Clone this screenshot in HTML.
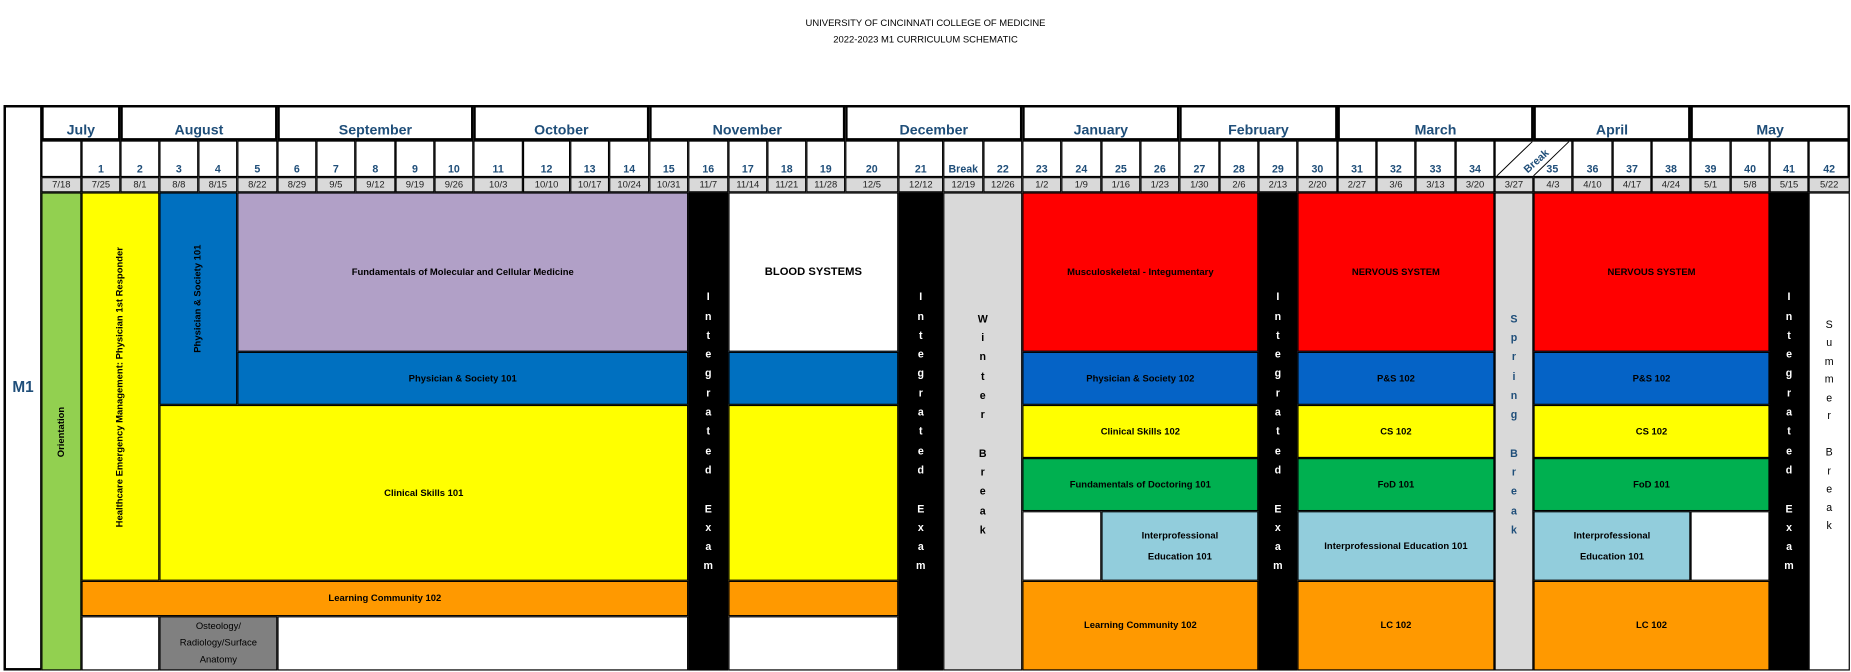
<!DOCTYPE html>
<html><head><meta charset="utf-8"><style>
html,body{margin:0;padding:0;background:#fff;width:1851px;height:672px;overflow:hidden}
#w{position:absolute;left:0;top:0;width:1568px;height:569px;transform:scale(1.1805);transform-origin:0 0;font-family:"Liberation Sans",sans-serif}
.b{position:absolute;box-sizing:border-box;border:1.5px solid #000;display:flex;align-items:center;justify-content:center;text-align:center;font-weight:bold;font-size:8px;color:#000;line-height:1.25}
.m{top:89px;height:30px;align-items:flex-end;color:#1f4e79;font-size:12px;padding-bottom:0px;border-width:2px;line-height:14px}
.n{top:119px;height:31px;align-items:flex-end;color:#1f4e79;font-size:9px;padding-bottom:0px}
.d{top:150px;height:13px;background:#d9d9d9;font-weight:normal;font-size:8px;color:#222}
.v{flex-direction:column;line-height:16.3px;font-size:9px}
.r span{transform:rotate(-90deg);white-space:nowrap;display:block}
</style></head><body><div id="w">
<div style="position:absolute;left:0;width:1568px;top:13px;text-align:center;font-size:8px;line-height:14px;color:#000">UNIVERSITY OF CINCINNATI COLLEGE OF MEDICINE<br>2022-2023 M1 CURRICULUM SCHEMATIC</div>
<div class="b" style="left:3px;top:89px;width:1564px;height:479px;border-width:2px"></div>
<div class="b" style="left:3px;top:89px;width:33px;height:479px;border-width:2px;color:#1f4e79;font-size:13px">M1</div>
<div class="b m" style="left:35px;width:67px">July</div>
<div class="b m" style="left:102px;width:133px">August</div>
<div class="b m" style="left:235px;width:166px">September</div>
<div class="b m" style="left:401px;width:149px">October</div>
<div class="b m" style="left:550px;width:166px">November</div>
<div class="b m" style="left:716px;width:150px">December</div>
<div class="b m" style="left:866px;width:133px">January</div>
<div class="b m" style="left:999px;width:134px">February</div>
<div class="b m" style="left:1133px;width:166px">March</div>
<div class="b m" style="left:1299px;width:133px">April</div>
<div class="b m" style="left:1432px;width:135px">May</div>
<div class="b n" style="left:35px;width:34px"></div>
<div class="b n" style="left:69px;width:33px">1</div>
<div class="b n" style="left:102px;width:33px">2</div>
<div class="b n" style="left:135px;width:33px">3</div>
<div class="b n" style="left:168px;width:33px">4</div>
<div class="b n" style="left:201px;width:34px">5</div>
<div class="b n" style="left:235px;width:33px">6</div>
<div class="b n" style="left:268px;width:33px">7</div>
<div class="b n" style="left:301px;width:34px">8</div>
<div class="b n" style="left:335px;width:33px">9</div>
<div class="b n" style="left:368px;width:33px">10</div>
<div class="b n" style="left:401px;width:42px">11</div>
<div class="b n" style="left:443px;width:40px">12</div>
<div class="b n" style="left:483px;width:33px">13</div>
<div class="b n" style="left:516px;width:34px">14</div>
<div class="b n" style="left:550px;width:33px">15</div>
<div class="b n" style="left:583px;width:34px">16</div>
<div class="b n" style="left:617px;width:33px">17</div>
<div class="b n" style="left:650px;width:33px">18</div>
<div class="b n" style="left:683px;width:33px">19</div>
<div class="b n" style="left:716px;width:45px">20</div>
<div class="b n" style="left:761px;width:38px">21</div>
<div class="b n" style="left:799px;width:34px">Break</div>
<div class="b n" style="left:833px;width:33px">22</div>
<div class="b n" style="left:866px;width:33px">23</div>
<div class="b n" style="left:899px;width:34px">24</div>
<div class="b n" style="left:933px;width:33px">25</div>
<div class="b n" style="left:966px;width:33px">26</div>
<div class="b n" style="left:999px;width:34px">27</div>
<div class="b n" style="left:1033px;width:33px">28</div>
<div class="b n" style="left:1066px;width:33px">29</div>
<div class="b n" style="left:1099px;width:34px">30</div>
<div class="b n" style="left:1133px;width:33px">31</div>
<div class="b n" style="left:1166px;width:33px">32</div>
<div class="b n" style="left:1199px;width:34px">33</div>
<div class="b n" style="left:1233px;width:33px">34</div>
<div class="b n" style="left:1266px;width:33px;border-right:none"></div>
<div class="b n" style="left:1299px;width:33px;border-left:none">35</div>
<div class="b n" style="left:1332px;width:34px">36</div>
<div class="b n" style="left:1366px;width:33px">37</div>
<div class="b n" style="left:1399px;width:33px">38</div>
<div class="b n" style="left:1432px;width:34px">39</div>
<div class="b n" style="left:1466px;width:33px">40</div>
<div class="b n" style="left:1499px;width:33px">41</div>
<div class="b n" style="left:1532px;width:35px">42</div>
<svg style="position:absolute;left:1266px;top:119px" width="70" height="31"><line x1="2" y1="30" x2="32" y2="1" stroke="#000" stroke-width="0.8"/><line x1="33" y1="30" x2="63" y2="1" stroke="#000" stroke-width="0.8"/><text x="0" y="0" transform="translate(28,28) rotate(-42)" font-family="Liberation Sans" font-weight="bold" font-size="9" fill="#1f4e79">Break</text></svg>
<div class="b d" style="left:35px;width:34px">7/18</div>
<div class="b d" style="left:69px;width:33px">7/25</div>
<div class="b d" style="left:102px;width:33px">8/1</div>
<div class="b d" style="left:135px;width:33px">8/8</div>
<div class="b d" style="left:168px;width:33px">8/15</div>
<div class="b d" style="left:201px;width:34px">8/22</div>
<div class="b d" style="left:235px;width:33px">8/29</div>
<div class="b d" style="left:268px;width:33px">9/5</div>
<div class="b d" style="left:301px;width:34px">9/12</div>
<div class="b d" style="left:335px;width:33px">9/19</div>
<div class="b d" style="left:368px;width:33px">9/26</div>
<div class="b d" style="left:401px;width:42px">10/3</div>
<div class="b d" style="left:443px;width:40px">10/10</div>
<div class="b d" style="left:483px;width:33px">10/17</div>
<div class="b d" style="left:516px;width:34px">10/24</div>
<div class="b d" style="left:550px;width:33px">10/31</div>
<div class="b d" style="left:583px;width:34px">11/7</div>
<div class="b d" style="left:617px;width:33px">11/14</div>
<div class="b d" style="left:650px;width:33px">11/21</div>
<div class="b d" style="left:683px;width:33px">11/28</div>
<div class="b d" style="left:716px;width:45px">12/5</div>
<div class="b d" style="left:761px;width:38px">12/12</div>
<div class="b d" style="left:799px;width:34px">12/19</div>
<div class="b d" style="left:833px;width:33px">12/26</div>
<div class="b d" style="left:866px;width:33px">1/2</div>
<div class="b d" style="left:899px;width:34px">1/9</div>
<div class="b d" style="left:933px;width:33px">1/16</div>
<div class="b d" style="left:966px;width:33px">1/23</div>
<div class="b d" style="left:999px;width:34px">1/30</div>
<div class="b d" style="left:1033px;width:33px">2/6</div>
<div class="b d" style="left:1066px;width:33px">2/13</div>
<div class="b d" style="left:1099px;width:34px">2/20</div>
<div class="b d" style="left:1133px;width:33px">2/27</div>
<div class="b d" style="left:1166px;width:33px">3/6</div>
<div class="b d" style="left:1199px;width:34px">3/13</div>
<div class="b d" style="left:1233px;width:33px">3/20</div>
<div class="b d" style="left:1266px;width:33px">3/27</div>
<div class="b d" style="left:1299px;width:33px">4/3</div>
<div class="b d" style="left:1332px;width:34px">4/10</div>
<div class="b d" style="left:1366px;width:33px">4/17</div>
<div class="b d" style="left:1399px;width:33px">4/24</div>
<div class="b d" style="left:1432px;width:34px">5/1</div>
<div class="b d" style="left:1466px;width:33px">5/8</div>
<div class="b d" style="left:1499px;width:33px">5/15</div>
<div class="b d" style="left:1532px;width:35px">5/22</div>
<div class="b r" style="left:35px;top:163px;width:34px;height:405px;background:#92d050"><span>Orientation</span></div>
<div class="b r" style="left:69px;top:163px;width:66px;height:329px;background:#ffff00"><span>Healthcare Emergency Management: Physician 1st Responder</span></div>
<div class="b r" style="left:135px;top:163px;width:66px;height:180px;background:#0070c0"><span>Physician &amp; Society 101</span></div>
<div class="b" style="left:201px;top:163px;width:382px;height:135px;background:#b1a0c7">Fundamentals of Molecular and Cellular Medicine</div>
<div class="b" style="left:201px;top:298px;width:382px;height:45px;background:#0070c0">Physician &amp; Society 101</div>
<div class="b" style="left:135px;top:343px;width:448px;height:149px;background:#ffff00">Clinical Skills 101</div>
<div class="b" style="left:69px;top:492px;width:514px;height:30px;background:#ff9900">Learning Community 102</div>
<div class="b" style="left:69px;top:522px;width:66px;height:46px;background:#fff"></div>
<div class="b" style="left:135px;top:522px;width:100px;height:46px;background:#808080;font-weight:normal;font-size:8px;line-height:14px;color:#000">Osteology/<br>Radiology/Surface<br>Anatomy</div>
<div class="b" style="left:235px;top:522px;width:348px;height:46px;background:#fff"></div>
<div class="b v" style="left:583px;top:163px;width:34px;height:405px;background:#000;color:#fff;padding-bottom:0px">I<br>n<br>t<br>e<br>g<br>r<br>a<br>t<br>e<br>d<br>&nbsp;<br>E<br>x<br>a<br>m</div>
<div class="b" style="left:617px;top:163px;width:144px;height:135px;background:#fff;font-size:9.5px">BLOOD SYSTEMS</div>
<div class="b" style="left:617px;top:298px;width:144px;height:45px;background:#0070c0"></div>
<div class="b" style="left:617px;top:343px;width:144px;height:149px;background:#ffff00"></div>
<div class="b" style="left:617px;top:492px;width:144px;height:30px;background:#ff9900"></div>
<div class="b" style="left:617px;top:522px;width:144px;height:46px;background:#fff"></div>
<div class="b v" style="left:761px;top:163px;width:38px;height:405px;background:#000;color:#fff">I<br>n<br>t<br>e<br>g<br>r<br>a<br>t<br>e<br>d<br>&nbsp;<br>E<br>x<br>a<br>m</div>
<div class="b v" style="left:799px;top:163px;width:67px;height:405px;background:#d9d9d9;padding-bottom:12px">W<br>i<br>n<br>t<br>e<br>r<br>&nbsp;<br>B<br>r<br>e<br>a<br>k</div>
<div class="b" style="left:866px;top:163px;width:200px;height:135px;background:#ff0000">Musculoskeletal - Integumentary</div>
<div class="b" style="left:866px;top:298px;width:200px;height:45px;background:#0563c6">Physician &amp; Society 102</div>
<div class="b" style="left:866px;top:343px;width:200px;height:45px;background:#ffff00">Clinical Skills 102</div>
<div class="b" style="left:866px;top:388px;width:200px;height:45px;background:#00b050">Fundamentals of Doctoring 101</div>
<div class="b" style="left:866px;top:433px;width:67px;height:59px;background:#fff"></div>
<div class="b" style="left:933px;top:433px;width:133px;height:59px;background:#92cddc;line-height:18px">Interprofessional<br>Education 101</div>
<div class="b" style="left:866px;top:492px;width:200px;height:76px;background:#ff9900">Learning Community 102</div>
<div class="b v" style="left:1066px;top:163px;width:33px;height:405px;background:#000;color:#fff">I<br>n<br>t<br>e<br>g<br>r<br>a<br>t<br>e<br>d<br>&nbsp;<br>E<br>x<br>a<br>m</div>
<div class="b" style="left:1099px;top:163px;width:167px;height:135px;background:#ff0000">NERVOUS SYSTEM</div>
<div class="b" style="left:1099px;top:298px;width:167px;height:45px;background:#0563c6">P&amp;S 102</div>
<div class="b" style="left:1099px;top:343px;width:167px;height:45px;background:#ffff00">CS 102</div>
<div class="b" style="left:1099px;top:388px;width:167px;height:45px;background:#00b050">FoD 101</div>
<div class="b" style="left:1099px;top:433px;width:167px;height:59px;background:#92cddc">Interprofessional Education 101</div>
<div class="b" style="left:1099px;top:492px;width:167px;height:76px;background:#ff9900">LC 102</div>
<div class="b v" style="left:1266px;top:163px;width:33px;height:405px;background:#d9d9d9;color:#1f4e79;padding-bottom:12px">S<br>p<br>r<br>i<br>n<br>g<br>&nbsp;<br>B<br>r<br>e<br>a<br>k</div>
<div class="b" style="left:1299px;top:163px;width:200px;height:135px;background:#ff0000">NERVOUS SYSTEM</div>
<div class="b" style="left:1299px;top:298px;width:200px;height:45px;background:#0563c6">P&amp;S 102</div>
<div class="b" style="left:1299px;top:343px;width:200px;height:45px;background:#ffff00">CS 102</div>
<div class="b" style="left:1299px;top:388px;width:200px;height:45px;background:#00b050">FoD 101</div>
<div class="b" style="left:1299px;top:433px;width:133px;height:59px;background:#92cddc;line-height:18px">Interprofessional<br>Education 101</div>
<div class="b" style="left:1432px;top:433px;width:67px;height:59px;background:#fff"></div>
<div class="b" style="left:1299px;top:492px;width:200px;height:76px;background:#ff9900">LC 102</div>
<div class="b v" style="left:1499px;top:163px;width:33px;height:405px;background:#000;color:#fff">I<br>n<br>t<br>e<br>g<br>r<br>a<br>t<br>e<br>d<br>&nbsp;<br>E<br>x<br>a<br>m</div>
<div class="b v" style="left:1532px;top:163px;width:35px;height:405px;background:#fff;font-weight:normal;line-height:15.5px;padding-bottom:10px">S<br>u<br>m<br>m<br>e<br>r<br>&nbsp;<br>B<br>r<br>e<br>a<br>k</div>
</div></body></html>
